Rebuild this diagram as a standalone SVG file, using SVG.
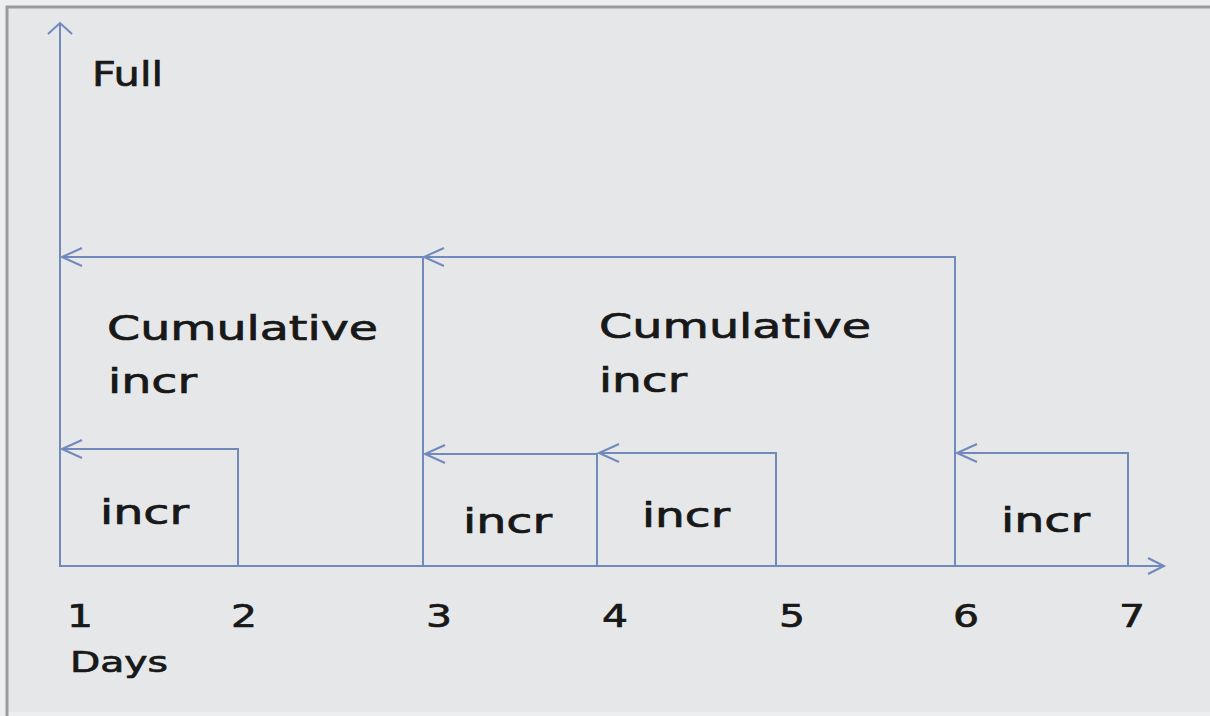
<svg xmlns="http://www.w3.org/2000/svg" width="1210" height="716" viewBox="0 0 1210 716">
<defs>
<style>
.ln{fill:none;stroke:#7189bb;stroke-width:2}
.t{font-family:"DejaVu Sans","Verdana",sans-serif;fill:#181818;stroke:#181818;stroke-width:0.7}
.big{font-size:33px}
.num{font-size:32px}
</style>
<marker id="ah" markerUnits="userSpaceOnUse" markerWidth="30" markerHeight="30" viewBox="-25 -15 30 30" refX="0" refY="0" orient="auto">
<path d="M-20,-9 L0,0 L-20,9" fill="none" stroke="#7189bb" stroke-width="2"/>
</marker>
<marker id="ahx" markerUnits="userSpaceOnUse" markerWidth="30" markerHeight="30" viewBox="-25 -15 30 30" refX="0" refY="0" orient="auto">
<path d="M-16,-8 L0,0 L-16,8" fill="none" stroke="#7189bb" stroke-width="2"/>
</marker>
<marker id="ahy" markerUnits="userSpaceOnUse" markerWidth="30" markerHeight="30" viewBox="-25 -15 30 30" refX="0" refY="0" orient="auto">
<path d="M-11,-12 L0,0 L-11,12" fill="none" stroke="#7189bb" stroke-width="2"/>
</marker>
</defs>
<rect x="0" y="0" width="1210" height="716" fill="#eceeef"/>
<rect x="8" y="8" width="1205" height="704" fill="#e5e7e9"/>
<path d="M7,716 V7 H1210" fill="none" stroke="#9a9b9d" stroke-width="3"/>

<g id="connectors">
<line class="ln" x1="60" y1="567" x2="60" y2="23" marker-end="url(#ahy)"/>
<line class="ln" x1="60" y1="566" x2="1164" y2="566" marker-end="url(#ahx)"/>
<path class="ln" d="M423,257 H62" marker-end="url(#ah)"/>
<path class="ln" d="M955,566 V257 H424" marker-end="url(#ah)"/>
<path class="ln" d="M423,257 V566"/>
<path class="ln" d="M238,566 V449 H62" marker-end="url(#ah)"/>
<path class="ln" d="M597,566 V454 H425" marker-end="url(#ah)"/>
<path class="ln" d="M776,566 V453 H599" marker-end="url(#ah)"/>
<path class="ln" d="M1128,566 V453 H957" marker-end="url(#ah)"/>
</g>

<g id="axis-labels">
<text class="t big" x="92" y="86" textLength="71" lengthAdjust="spacingAndGlyphs">Full</text>
<text class="t" x="70" y="672" font-size="29" textLength="98" lengthAdjust="spacingAndGlyphs">Days</text>
<text class="t num" x="67" y="627" textLength="26" lengthAdjust="spacingAndGlyphs">1</text>
<text class="t num" x="231" y="627" textLength="26" lengthAdjust="spacingAndGlyphs">2</text>
<text class="t num" x="426" y="627" textLength="26" lengthAdjust="spacingAndGlyphs">3</text>
<text class="t num" x="602" y="627" textLength="26" lengthAdjust="spacingAndGlyphs">4</text>
<text class="t num" x="779" y="627" textLength="26" lengthAdjust="spacingAndGlyphs">5</text>
<text class="t num" x="953" y="627" textLength="26" lengthAdjust="spacingAndGlyphs">6</text>
<text class="t num" x="1119" y="627" textLength="26" lengthAdjust="spacingAndGlyphs">7</text>
</g>

<g id="cumulative1">
<text class="t big" x="107" y="340" textLength="271" lengthAdjust="spacingAndGlyphs">Cumulative</text>
<text class="t big" x="108" y="393" textLength="89" lengthAdjust="spacingAndGlyphs">incr</text>
</g>
<g id="cumulative2">
<text class="t big" x="599" y="338" textLength="272" lengthAdjust="spacingAndGlyphs">Cumulative</text>
<text class="t big" x="599" y="392" textLength="88" lengthAdjust="spacingAndGlyphs">incr</text>
</g>
<g id="incr1"><text class="t big" x="100" y="524" textLength="89" lengthAdjust="spacingAndGlyphs">incr</text></g>
<g id="incr2"><text class="t big" x="463" y="533" textLength="89" lengthAdjust="spacingAndGlyphs">incr</text></g>
<g id="incr3"><text class="t big" x="642" y="527" textLength="88" lengthAdjust="spacingAndGlyphs">incr</text></g>
<g id="incr4"><text class="t big" x="1001" y="532" textLength="89" lengthAdjust="spacingAndGlyphs">incr</text></g>
</svg>
